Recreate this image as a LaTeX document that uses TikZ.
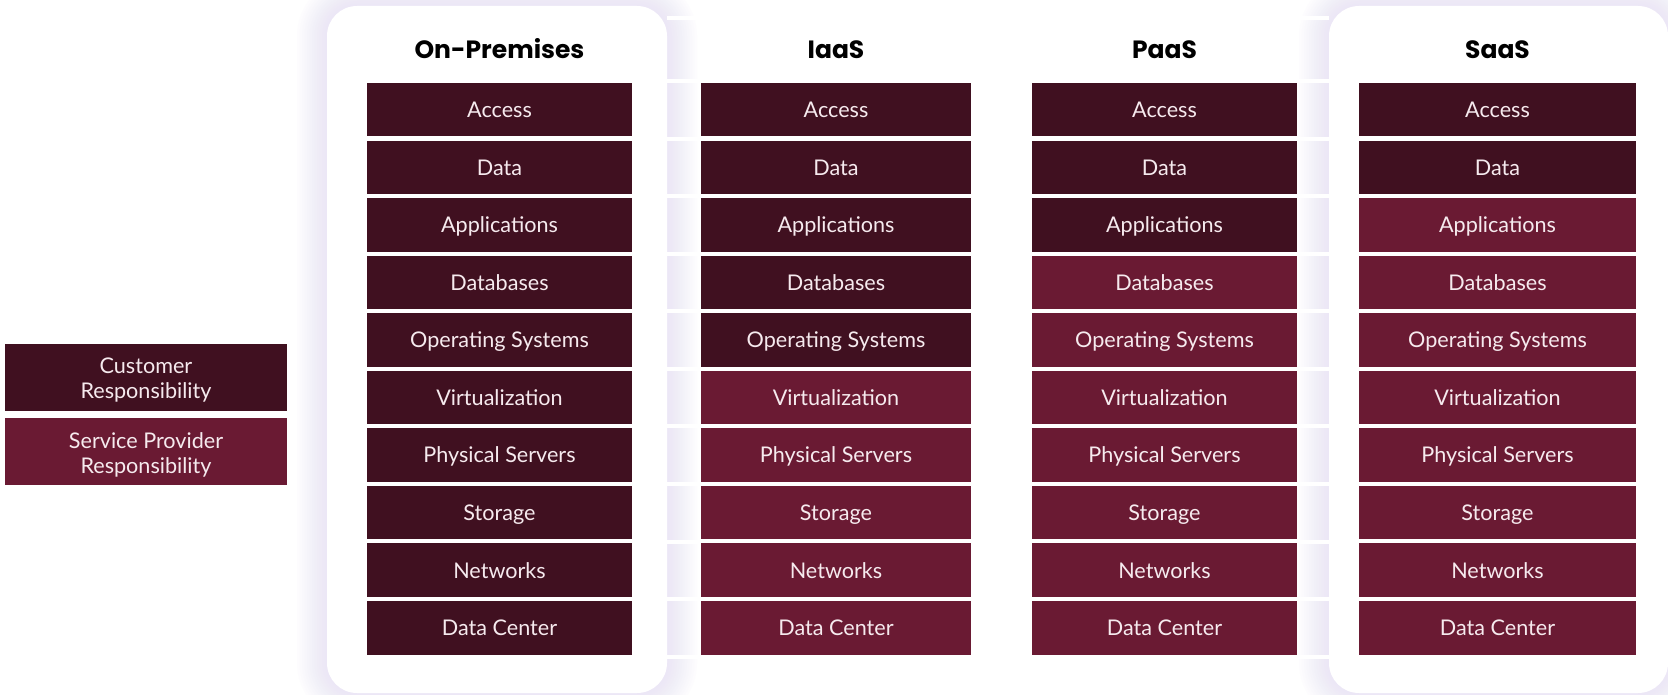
\documentclass[tikz,border=0pt]{standalone}
\usepackage{fontspec}
\setmainfont{Lato}
\newfontfamily\headfont{Poppins}
\definecolor{custc}{RGB}{64,16,32}
\definecolor{provc}{RGB}{106,26,51}
\definecolor{celltext}{RGB}{246,234,238}
\definecolor{glowc}{RGB}{222,214,246}
\begin{document}
\begin{tikzpicture}[x=1pt,y=-1pt,
  cell/.style={rectangle, inner sep=0pt, minimum height=53.5pt,
    text=celltext, font=\fontsize{21.6}{25}\selectfont,
    text height=15.6pt, text depth=0pt},
  legbox/.style={rectangle, inner sep=0pt, minimum width=282pt, minimum height=67pt},
  legtext/.style={text=celltext, align=center, inner sep=0pt,
    font=\fontsize{21.6}{25}\selectfont},
  head/.style={font=\headfont\bfseries\fontsize{25}{30}\selectfont, inner sep=0pt, text=black},
  card/.style={fill=white, rounded corners=30pt}]
\useasboundingbox (0,0) rectangle (1668,695);
\fill[white] (0,0) rectangle (1668,695);

% soft lavender glow around the two highlighted cards
\foreach \k [evaluate=\k as \d using \k*2.5, evaluate=\k as \r using 30+\k*2.5] in {1,...,12}{
  \fill[glowc, opacity=0.05, rounded corners=\r pt]
    ({327-\d},{6-\d}) rectangle ({667+\d},{693+\d});
  \fill[glowc, opacity=0.05, rounded corners=\r pt]
    ({1329-\d},{6-\d}) rectangle ({1668+\d},{693+\d});
}
% white row separators running through the glow
\foreach \yy in {18,81,138.6,196.1,253.7,311.2,368.8,426.4,483.9,541.5,599.0,656.5}{
  \fill[white] (667,{\yy-2}) rectangle (701,{\yy+2});
  \fill[white] (1297,{\yy-2}) rectangle (1329,{\yy+2});
}

% cards
\fill[card] (327,6) rectangle (667,693);
\fill[card] (1329,6) rectangle (1668,693);

% column headings
\foreach \c/\cx/\name in {1/499.5/On-Premises, 2/836/IaaS, 3/1164.5/PaaS, 4/1497.5/SaaS}{
  \node[head, anchor=base] (h\c) at (\cx,59) {\name};
}

% responsibility stacks: \nd = number of customer-managed layers
\foreach \c/\cx/\w/\nd in {1/499.5/265/10, 2/836/270/5, 3/1164.5/265/3, 4/1497.5/277/2}{
  \foreach \t [count=\i from 0] in {Access, Data, Applications, Databases,
      Operating Systems, Virtualization, Physical Servers, Storage, Networks, Data Center}{
    \ifnum\i<\nd \def\fc{custc}\else\def\fc{provc}\fi
    \node[cell, fill=\fc, minimum width=\w pt] (c\c r\i) at (\cx,{83+57.56*\i+26.75}) {\t};
  }
}

% legend
\node[legbox, fill=custc] (legcust) at (146,377.5) {};
\node[legtext] (legcusttxt) at ([yshift=-3pt]legcust.center) {Customer\\Responsibility};
\node[legbox, fill=provc] (legprov) at (146,451.5) {};
\node[legtext] (legprovtxt) at ([yshift=-3pt]legprov.center) {Service Provider\\Responsibility};
\end{tikzpicture}
\end{document}
